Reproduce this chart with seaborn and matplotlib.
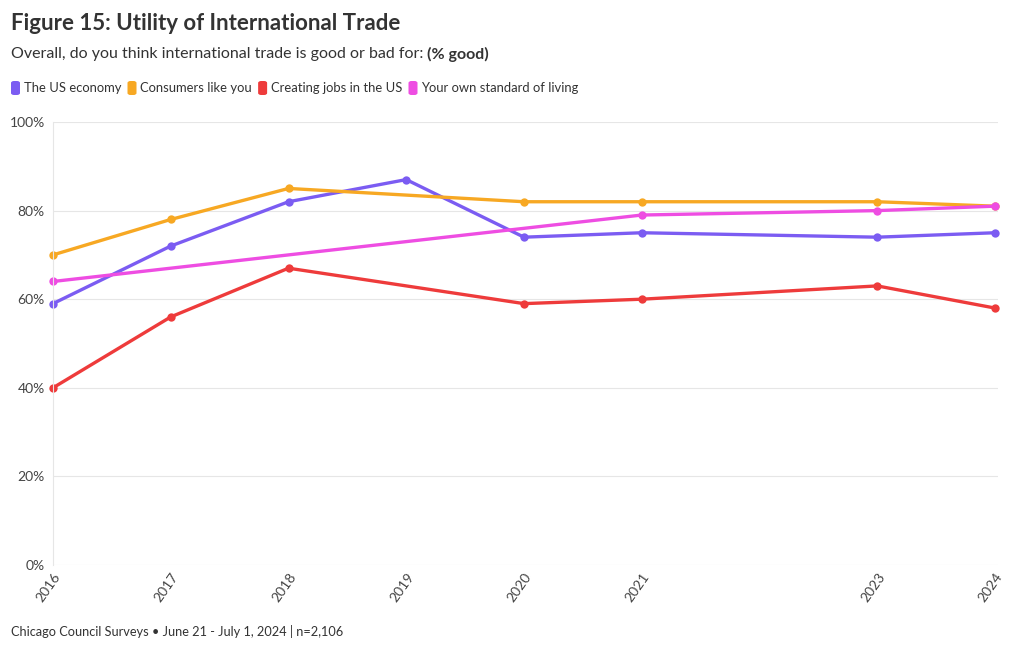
import matplotlib
matplotlib.use("Agg")
import matplotlib.pyplot as plt
import seaborn as sns
import pandas as pd
import numpy as np
from matplotlib.ticker import FuncFormatter
from matplotlib.patches import FancyBboxPatch

years = [2016, 2017, 2018, 2019, 2020, 2021, 2023, 2024]
us_economy = [59, 72, 82, 87, 74, 75, 74, 75]
consumers = [70, 78, 85, None, 82, 82, 82, 81]
jobs = [40, 56, 67, None, 59, 60, 63, 58]
standard_living = [64, None, None, None, None, 79, 80, 81]

series_names = ["The US economy", "Consumers like you", "Creating jobs in the US", "Your own standard of living"]
series_values = [us_economy, consumers, jobs, standard_living]
colors = ["#7B5CF2", "#F7A823", "#EE3B3B", "#EE4DE2"]

rows = []
for name, vals in zip(series_names, series_values):
    for y, v in zip(years, vals):
        if v is not None:
            rows.append({"year": y, "value": v, "series": name})
df = pd.DataFrame(rows)

sns.set_theme(style="white")
plt.rcParams["font.family"] = ["Lato", "DejaVu Sans"]

fig = plt.figure(figsize=(10.2, 6.5), dpi=100)
ax = fig.add_axes([53/1020, (650-565)/650, (998-53)/1020, (565-122)/650])

sns.lineplot(data=df, x="year", y="value", hue="series", hue_order=series_names,
             palette=colors, marker="o", markersize=6, markeredgewidth=0,
             linewidth=2.4, ax=ax, legend=False, sort=True)

ax.set_xlim(2016, 2024 + 3/117.75)
ax.set_ylim(0, 100)
ax.set_yticks([0, 20, 40, 60, 80, 100])
ax.yaxis.set_major_formatter(FuncFormatter(lambda v, p: f"{int(v)}%"))
ax.set_xticks(years)
ax.set_xticklabels([str(y) for y in years], rotation=55, ha="right", rotation_mode="anchor")
ax.tick_params(axis="x", labelsize=10, colors="#444444", pad=4, length=0)
ax.tick_params(axis="y", labelsize=10, colors="#444444", pad=6, length=0)
ax.grid(axis="y", color="#e6e6e6", linewidth=0.8)
ax.set_axisbelow(True)
for s in ["top", "right", "bottom"]:
    ax.spines[s].set_visible(False)
ax.spines["left"].set_color("#e6e6e6")
ax.spines["left"].set_linewidth(0.8)
ax.set_xlabel("")
ax.set_ylabel("")
for ln in ax.lines:
    ln.set_clip_on(False)

fig.text(11/1020, 1 - 24/650, "Figure 15: Utility of International Trade", fontsize=16,
         fontweight="bold", color="#333333", va="center", ha="left")
fig.text(11/1020, 1 - 54/650, "Overall, do you think international trade is good or bad for: ",
         fontsize=11.5, color="#333333", va="center", ha="left")
t = fig.text(11/1020, 1 - 54/650, "Overall, do you think international trade is good or bad for: ",
             fontsize=11.5, color="none", va="center", ha="left")
fig.canvas.draw()
bb = t.get_window_extent()
fig.text(bb.x1 / 1020, 1 - 54/650, "(% good)", fontsize=11.5, fontweight="bold",
         color="#333333", va="center", ha="left")

# legend
x = 11
renderer = fig.canvas.get_renderer()
for name, c in zip(series_names, colors):
    patch = FancyBboxPatch((x/1020, 1 - 95/650), 9/1020, 14/650,
                           boxstyle="round,pad=0,rounding_size=0.003", transform=fig.transFigure,
                           facecolor=c, edgecolor="none")
    fig.patches.append(patch)
    tx = fig.text((x + 13)/1020, 1 - 88/650, name, fontsize=9.4, color="#333333", va="center", ha="left")
    w = tx.get_window_extent(renderer=renderer).width
    x = x + 13 + w + 6

fig.text(11/1020, 1 - 632/650, "Chicago Council Surveys • June 21 - July 1, 2024 | n=2,106",
         fontsize=9.2, color="#333333", va="center", ha="left")

fig.savefig("out.png", dpi=100, facecolor="white")
